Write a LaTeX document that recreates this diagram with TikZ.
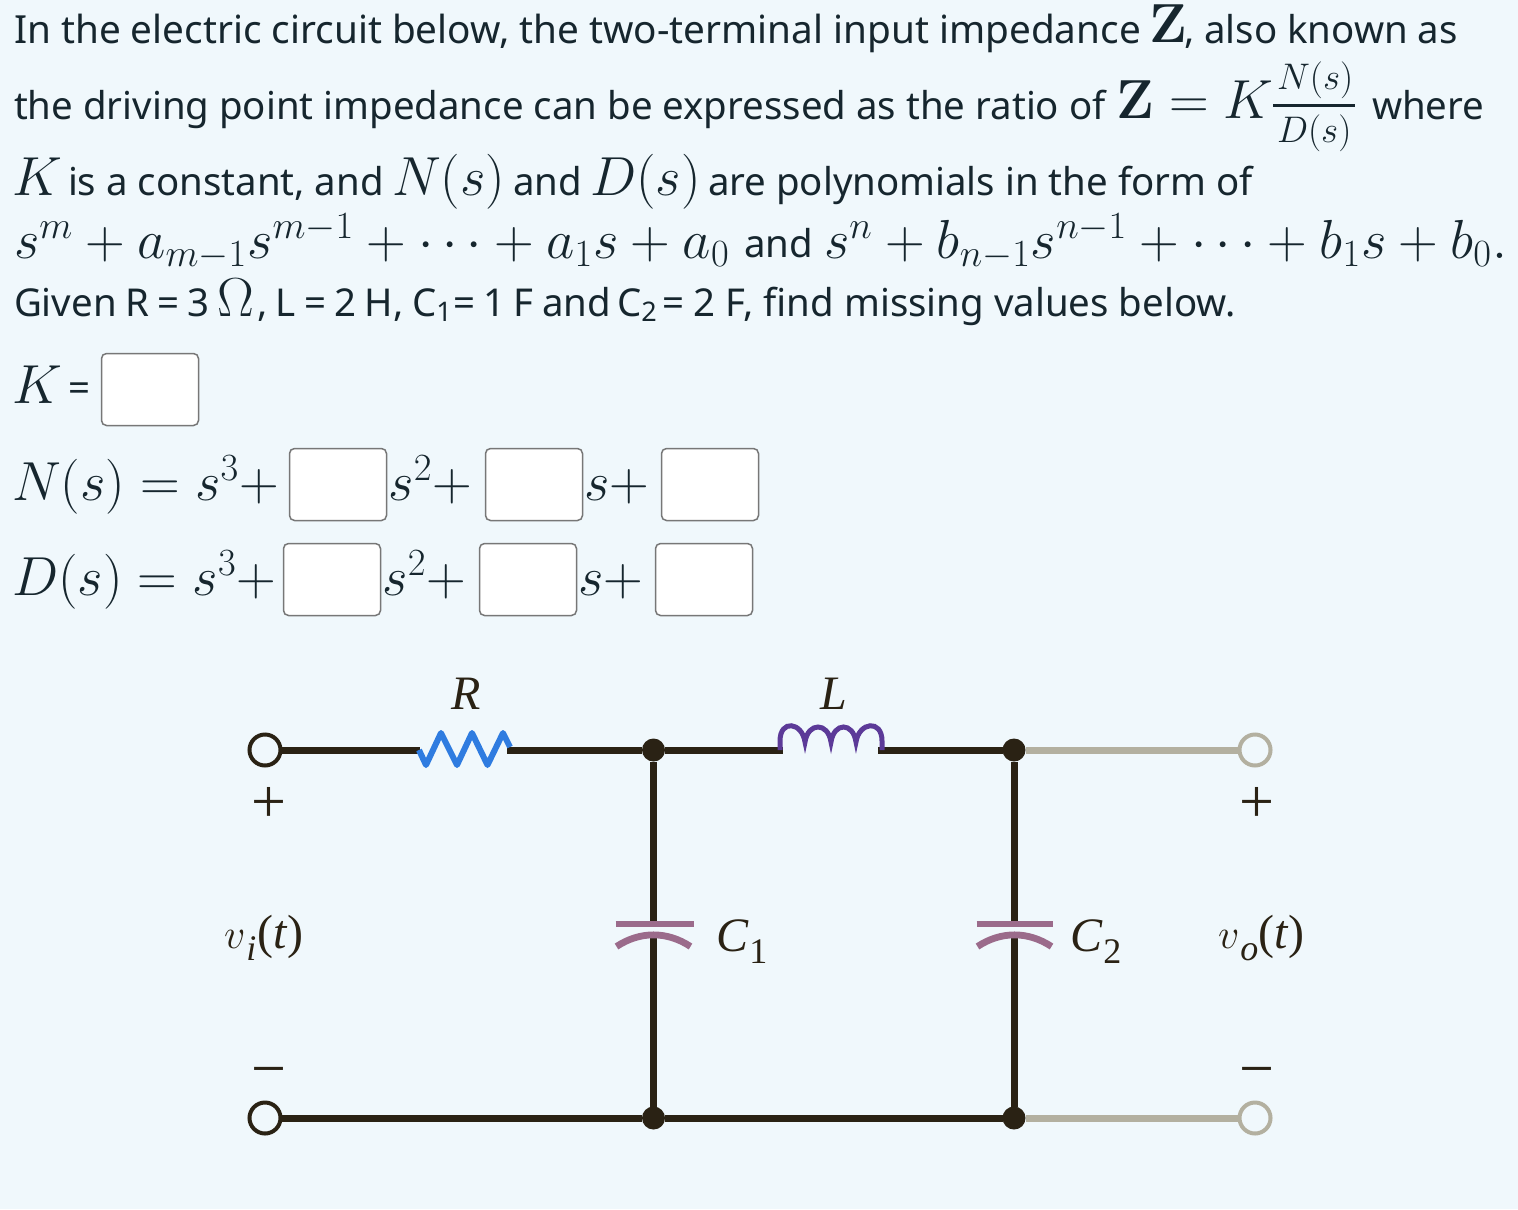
\documentclass[tikz,border=0pt]{standalone}
\usepackage{fix-cm}
\usepackage{amsmath,amssymb}
\usepackage[no-math]{fontspec}
\setmainfont{Noto Sans}
\newfontfamily\cktfont{Liberation Serif}
\definecolor{pagebg}{HTML}{F0F8FC}
\definecolor{inktext}{HTML}{16262E}
\definecolor{wirecol}{HTML}{2A2214}
\definecolor{fadecol}{HTML}{B3B0A0}
\definecolor{rescol}{HTML}{2F7CE0}
\definecolor{indcol}{HTML}{5C3A98}
\definecolor{capcol}{HTML}{9B6B8B}
\definecolor{boxcol}{HTML}{777777}
\newcommand{\mth}[1]{{\fontsize{27.5}{30}\selectfont$#1$}}
\newcommand{\fracmth}[1]{{\fontsize{18.5}{20}\selectfont$#1$}}
\newcommand{\sbs}[1]{\raisebox{-2.8pt}{\fontsize{13.5}{15}\selectfont #1}}
\newcommand{\cktsub}[1]{\kern0.5pt\raisebox{-6pt}{\fontsize{18}{20}\selectfont #1}}
\newcommand{\cktv}{{\fontsize{21}{24}\selectfont$v$}}
\tikzset{
  line/.style={anchor=base west,inner sep=0pt,outer sep=0pt,text=inktext,font=\fontsize{19.2}{23}\selectfont},
  tight/.style={execute at begin node={\spaceskip=4.2pt\relax}},
  ansbox/.style={draw=boxcol,fill=white,line width=0.75pt,rounded corners=2.5pt,minimum width=48.5pt,minimum height=36pt,inner sep=0pt,outer sep=0pt},
  wire/.style={wirecol,line width=3.5pt},
  fadewire/.style={fadecol,line width=3.5pt},
  terminal/.style={circle,draw=wirecol,line width=2pt,minimum size=15.5pt,inner sep=0pt,outer sep=0pt},
  fadeterminal/.style={terminal,draw=fadecol},
  junction/.style={circle,fill=wirecol,minimum size=11.5pt,inner sep=0pt,outer sep=0pt},
  ckt/.style={inner sep=0pt,outer sep=0pt,text=wirecol,font=\cktfont\fontsize{24}{28}\selectfont},
  cktsign/.style={ckt,font=\cktfont\fontsize{31}{34}\selectfont},
  capplate/.style={capcol,line width=3.4pt},
}
\begin{document}
\begin{tikzpicture}[x=0.5pt,y=-0.5pt]
  \fill[pagebg] (0,0) rectangle (1518,1209);
  \useasboundingbox (0,0) rectangle (1518,1209);

  \node[line,font=\fontsize{19.36}{23}\selectfont] (ta) at (14,44) {In the electric circuit below, the two-terminal input impedance};
  \node[line] (tb) at (1149,43) {\mth{\mathbf{Z}}};
  \node[line] (tc) at (1184,44) {, also known as};

  \node[line] (td) at (14,120) {the driving point impedance can be expressed as the ratio of};
  \node[line] (te) at (1116,119) {\mth{\mathbf{Z}=K}};
  \node[line] (fracN) at (1277,90) {\fracmth{N(s)}};
  \node[line] (fracD) at (1277,143) {\fracmth{D(s)}};
  \draw[inktext,line width=1.3pt] (1273,105.5) -- (1355,105.5);
  \node[line] (tf) at (1372,120) {where};

  \node[line] (tg) at (12,196) {\mth{K}};
  \node[line] (th) at (68,196) {is a constant, and};
  \node[line] (ti) at (392,196) {\mth{N(s)}};
  \node[line] (tj) at (513,196) {and};
  \node[line] (tk) at (590,196) {\mth{D(s)}};
  \node[line] (tl) at (708,196) {are polynomials in the form of};

  \node[line] (tm) at (14,258) {\mth{s^m+a_{m-1}s^{m-1}+\cdots+a_1s+a_0}};
  \node[line] (tn) at (744,257) {and};
  \node[line] (to) at (824,258) {\mth{s^n+b_{n-1}s^{n-1}+\cdots+b_1s+b_0.}};

  \node[line,tight] (tp) at (14,316) {Given R = 3};
  \node[line] (tq) at (217,316) {\mth{\Omega}};
  \node[line,tight] (tr) at (257,316) {, L = 2 H,};
  \node[line] (ts) at (412,316) {C\sbs{1}};
  \node[line,tight] (tt) at (453,316) {= 1 F and};
  \node[line] (tu) at (617,316) {C\sbs{2}};
  \node[line] (tv) at (662,316) {= 2 F, find missing values below.};

  \node[line] (kk) at (12,403) {\mth{K}};
  \node[line] (keq) at (68,401) {=};
  \node[ansbox] (boxK) at (150,389.5) {};

  \node[line] (nn) at (12,500) {\mth{N(s)=s^3{+}}};
  \foreach \x/\nm in {338/a,534/b,710/c} \node[ansbox] (boxN\nm) at (\x,484.5) {};
  \node[line] (nb) at (388.5,500) {\mth{s^2{+}}};
  \node[line] (nc) at (584,500) {\mth{s{+}}};

  \node[line] (dd) at (12,595) {\mth{D(s)=s^3{+}}};
  \foreach \x/\nm in {332/a,528/b,704/c} \node[ansbox] (boxD\nm) at (\x,579.5) {};
  \node[line] (db) at (382.5,595) {\mth{s^2{+}}};
  \node[line] (dc) at (578,595) {\mth{s{+}}};

  \node[terminal] (inTop) at (265,750) {};
  \node[terminal] (inBot) at (265,1118) {};
  \node[fadeterminal] (outTop) at (1255,750) {};
  \node[fadeterminal] (outBot) at (1255,1118) {};
  \node[junction] (jTopA) at (653.5,750) {};
  \node[junction] (jTopB) at (1014,750) {};
  \node[junction] (jBotA) at (653.5,1118) {};
  \node[junction] (jBotB) at (1014,1118) {};

  \coordinate (resIn) at (420,750);
  \coordinate (resOut) at (507,750);
  \coordinate (indIn) at (783,750);
  \coordinate (indOut) at (878,750);
  \coordinate (capAtop) at (653.5,924);
  \coordinate (capAbot) at (653.5,935);
  \coordinate (capBtop) at (1014,924);
  \coordinate (capBbot) at (1014,935);

  \draw[fadewire] (jTopB) -- (outTop);
  \draw[fadewire] (jBotB) -- (outBot);
  \draw[wire] (inTop) -- (resIn);
  \draw[wire] (resOut) -- (jTopA) -- (indIn);
  \draw[wire] (indOut) -- (jTopB);
  \draw[wire] (inBot) -- (jBotA) -- (jBotB);
  \draw[wire] (jTopA) -- (capAtop);
  \draw[wire] (capAbot) -- (jBotA);
  \draw[wire] (jTopB) -- (capBtop);
  \draw[wire] (capBbot) -- (jBotB);

  \draw[rescol,line width=3pt,line join=round] (419,750) -- ++(7,15) -- ++(15,-32) -- ++(16,32) -- ++(15,-32) -- ++(15.5,32) -- ++(15.5,-32) -- ++(7,14);
  \draw[indcol,line width=2.5pt] (780,750) -- ++(0,-9)
    .. controls +(0,-22) and +(-3,-20) .. ++(25,1)
    .. controls +(3,-20) and +(-3,-20) .. ++(26,0)
    .. controls +(3,-20) and +(-3,-20) .. ++(25,0)
    .. controls +(3,-20) and +(0,-22) .. ++(26,-1) -- ++(0,9);

  \draw[capplate] (615.5,924) -- (693.5,924);
  \draw[capplate] (616.5,946.5) .. controls (640,931) and (667,931) .. (690.5,946.5);
  \draw[capplate] (976.5,924) -- (1053,924);
  \draw[capplate] (977.5,946.5) .. controls (1001,931) and (1028,931) .. (1051.5,946.5);

  \node[ckt,anchor=base] (labR) at (466,709) {\textit{R}};
  \node[ckt,anchor=base] (labL) at (834,709) {\textit{L}};
  \node[ckt,anchor=base west] (labCa) at (716,951) {\textit{C}\cktsub{1}};
  \node[ckt,anchor=base west] (labCb) at (1070,951) {\textit{C}\cktsub{2}};
  \node[ckt,anchor=base west] (labVi) at (224,948) {\cktv\cktsub{\textit{i}}\kern0.5pt(\textit{t})};
  \node[ckt,anchor=base west] (labVo) at (1218,948) {\cktv\cktsub{\textit{o}}(\textit{t})};
  \node[cktsign] (plusIn) at (269,805) {+};
  \node[cktsign] (plusOut) at (1257,805) {+};
  \node[cktsign] (minusIn) at (269,1078) {\char"2212};
  \node[cktsign] (minusOut) at (1257,1078) {\char"2212};
\end{tikzpicture}
\end{document}
